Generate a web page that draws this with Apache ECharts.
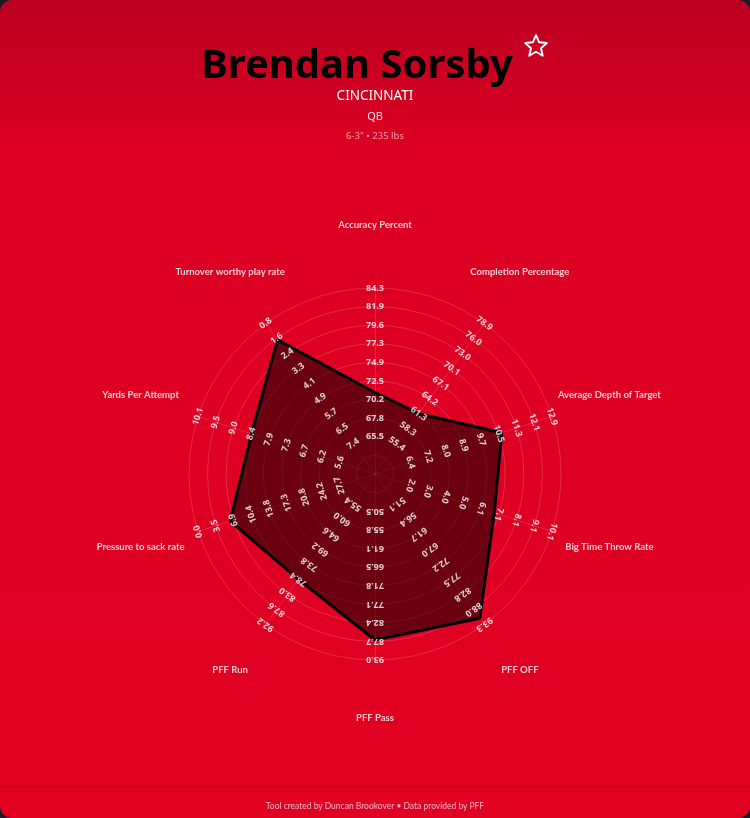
<!DOCTYPE html>
<html>
<head>
<meta charset="utf-8">
<script src="https://cdn.jsdelivr.net/npm/echarts@6/dist/echarts.min.js"></script>
<style>
  html, body { margin: 0; padding: 0; background: #1c1c24; }
  #card {
    position: relative; width: 750px; height: 818px; border-radius: 12px; overflow: hidden;
    background: linear-gradient(180deg, #bc0020 0px, #dc0022 150px, #e00022 100%);
    font-family: "Noto Sans", sans-serif;
  }
  #chart { position: absolute; left: 0; top: 0; width: 750px; height: 818px; }
  .line { position: absolute; left: 0; width: 750px; text-align: center; }
  #name { top: 33px; height: 60px; display: flex; justify-content: center; align-items: flex-start;
    font-size: 40px; font-weight: bold; color: #000; line-height: 60px; }
  #name svg { margin-left: 10px; margin-top: 0px; }
  #team { top: 86px; font-size: 13.5px; color: #fff; }
  #pos { top: 108px; font-size: 11px; color: rgba(255,255,255,0.9); }
  #size { top: 129px; font-size: 9.5px; color: rgba(255,255,255,0.6); }
  #foot {
    position: absolute; left: 0; top: 786px; width: 750px; height: 32px;
    border-top: 1px solid rgba(0,0,0,0.08);
    text-align: center; font-family: Lato, sans-serif; font-size: 8.5px; line-height: 38px; color: rgba(255,255,255,0.7);
  }
</style>
</head>
<body>
<div id="card">
  <div id="chart"></div>
  <div class="line" id="name"><span>Brendan Sorsby</span><svg width="26" height="26" viewBox="0 0 24 24"><polygon points="12,2 14.9,8.6 22,9.3 16.6,14 18.2,21 12,17.3 5.8,21 7.4,14 2,9.3 9.1,8.6" fill="none" stroke="#fff" stroke-width="1.8" stroke-linejoin="round"/></svg></div>
  <div class="line" id="team">CINCINNATI</div>
  <div class="line" id="pos">QB</div>
  <div class="line" id="size">6-3" • 235 lbs</div>
  <div id="foot">Tool created by Duncan Brookover • Data provided by PFF</div>
</div>
<script>
// categories clockwise from the top
const categories = ['Accuracy Percent', 'Completion Percentage', 'Average Depth of Target', 'Big Time Throw Rate',
  'PFF OFF', 'PFF Pass', 'PFF Run', 'Pressure to sack rate', 'Yards Per Attempt', 'Turnover worthy play rate'];

// tick labels, inner ring (2) to outer ring (10)
const accuracyTicks = ['65.5', '67.8', '70.2', '72.5', '74.9', '77.3', '79.6', '81.9', '84.3'];
const completionTicks = ['55.4', '58.3', '61.3', '64.2', '67.1', '70.1', '73.0', '76.0', '78.9'];
const adotTicks = ['6.4', '7.2', '8.0', '8.9', '9.7', '10.5', '11.3', '12.1', '12.9'];
const bttTicks = ['2.0', '3.0', '4.0', '5.0', '6.1', '7.1', '8.1', '9.1', '10.1'];
const pffOffTicks = ['51.1', '56.4', '61.7', '67.0', '72.2', '77.5', '82.8', '88.0', '93.3'];
const pffPassTicks = ['50.5', '55.8', '61.1', '66.5', '71.8', '77.1', '82.4', '87.7', '93.0'];
const pffRunTicks = ['55.4', '60.0', '64.6', '69.2', '73.8', '78.4', '83.0', '87.6', '92.2'];
const pressureTicks = ['27.7', '24.2', '20.8', '17.3', '13.8', '10.4', '6.9', '3.5', '0.0'];
const ypaTicks = ['5.6', '6.2', '6.7', '7.3', '7.9', '8.4', '9.0', '9.5', '10.1'];
const twpTicks = ['7.4', '6.5', '5.7', '4.9', '4.1', '3.3', '2.4', '1.6', '0.8'];

const tickLabels = [accuracyTicks, completionTicks, adotTicks, bttTicks, pffOffTicks,
  pffPassTicks, pffRunTicks, pressureTicks, ypaTicks, twpTicks];

// player values, same order as categories
const playerValues = [71.1, 61.3, 10.6, 6.8, 91.1, 87.3, 78.4, 6.3, 8.4, 1.7];

const font = '"Noto Sans", sans-serif';
const outerRing = 10;
const nameRing = 13.25;
const radius = 186;
const center = [375, 474];

// value -> ring position using that axis's own tick scale (works for inverted axes too)
function toRing(v, ticks) {
  const a = parseFloat(ticks[0]);
  const b = parseFloat(ticks[ticks.length - 1]);
  return 2 + (v - a) / (b - a) * 8;
}

// radar runs counter-clockwise, so feed it the reversed order
const order = [0].concat(categories.map((c, i) => i).slice(1).reverse());

const tickData = [];
tickLabels.forEach((ticks, i) => {
  ticks.forEach((t, k) => {
    tickData.push({ value: [k + 2, i * 36], name: t, label: { rotate: -i * 36 } });
  });
});
const nameData = categories.map((c, i) => ({ value: [nameRing, i * 36], name: c }));

const chart = echarts.init(document.getElementById('chart'), null, { renderer: 'canvas' });
chart.setOption({
  animation: false,
  radar: {
    center: center,
    radius: radius,
    startAngle: 90,
    shape: 'circle',
    splitNumber: 10,
    indicator: order.map(i => ({ name: categories[i], min: 0, max: outerRing })),
    axisName: { show: false },
    axisLabel: { show: false },
    axisTick: { show: false },
    splitArea: { show: false },
    splitLine: { lineStyle: { color: 'rgba(255,255,255,0.17)', width: 1 } },
    axisLine: { lineStyle: { color: 'rgba(255,255,255,0.14)', width: 1 } }
  },
  polar: { center: center, radius: radius * 1.34 },
  angleAxis: {
    type: 'value', min: 0, max: 360, startAngle: 90, clockwise: true, show: false,
    axisLine: { show: false }, splitLine: { show: false }, axisLabel: { show: false }, axisTick: { show: false }
  },
  radiusAxis: {
    type: 'value', min: 0, max: 13.4, show: false,
    axisLine: { show: false }, splitLine: { show: false }, axisLabel: { show: false }, axisTick: { show: false }
  },
  series: [
    {
      type: 'radar',
      symbol: 'none',
      lineStyle: { color: '#000', width: 3 },
      areaStyle: { color: 'rgba(0,0,0,0.52)', opacity: 1 },
      data: [{ value: order.map(i => toRing(playerValues[i], tickLabels[i])) }]
    },
    {
      type: 'scatter',
      coordinateSystem: 'polar',
      symbolSize: 0,
      silent: true,
      label: {
        show: true, position: 'inside', formatter: '{b}',
        color: '#fff', fontSize: 9, fontWeight: 'bold', fontFamily: font
      },
      data: tickData
    },
    {
      type: 'scatter',
      coordinateSystem: 'polar',
      symbolSize: 0,
      silent: true,
      label: {
        show: true, position: 'inside', formatter: '{b}', offset: [0, -3],
        color: '#fff', fontSize: 9.5, fontWeight: 'bold', fontFamily: 'Lato, sans-serif'
      },
      data: nameData
    }
  ]
});
</script>
</body>
</html>
